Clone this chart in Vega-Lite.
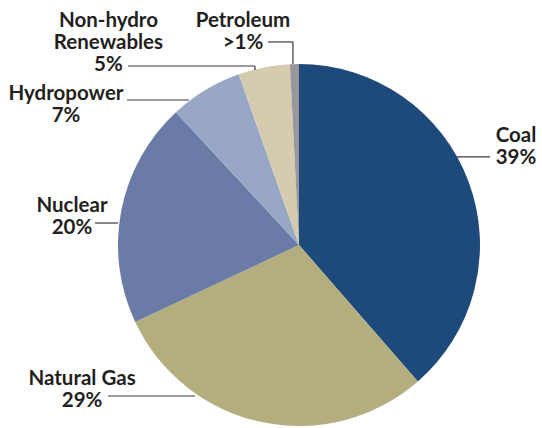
{
  "$schema": "https://vega.github.io/schema/vega-lite/v6.json",
  "width": 486,
  "height": 366,
  "autosize": {"type": "none"},
  "padding": {"left": 56, "top": 62, "right": 0, "bottom": 0},
  "background": "white",
  "config": {
    "view": {"stroke": null},
    "text": {"font": "Lato", "fontWeight": "bold", "fontSize": 20.5, "color": "#231f20", "align": "center", "baseline": "alphabetic", "lineBreak": "\n", "lineHeight": 22},
    "rule": {"color": "#3a3a3a", "strokeWidth": 1.2}
  },
  "data": {"values": [
    {"source": "Coal", "share": 38.6, "label": "Coal\n39%", "order": 1},
    {"source": "Natural Gas", "share": 29.4, "label": "Natural Gas\n29%", "order": 2},
    {"source": "Nuclear", "share": 20.1, "label": "Nuclear\n20%", "order": 3},
    {"source": "Hydropower", "share": 6.5, "label": "Hydropower\n7%", "order": 4},
    {"source": "Non-hydro Renewables", "share": 4.6, "label": "Non-hydro\nRenewables\n5%", "order": 5},
    {"source": "Petroleum", "share": 0.8, "label": "Petroleum\n>1%", "order": 6}
  ]},
  "transform": [
    {"stack": "share", "groupby": [], "sort": [{"field": "order"}], "as": ["s0", "s1"]},
    {"calculate": "(datum.s0 + datum.s1) * PI / 100", "as": "mid"},
    {"calculate": "sin(datum.mid)", "as": "ax"},
    {"calculate": "cos(datum.mid)", "as": "ay"}
  ],
  "layer": [
    {
      "mark": {"type": "arc", "outerRadius": 181},
      "encoding": {
        "theta": {"field": "s0", "type": "quantitative", "stack": null, "scale": {"domain": [0, 100]}},
        "theta2": {"field": "s1"},
        "color": {"field": "source", "type": "nominal", "legend": null,
          "scale": {"domain": ["Coal", "Natural Gas", "Nuclear", "Hydropower", "Non-hydro Renewables", "Petroleum"],
                    "range": ["#1e4a7b", "#b4ad7e", "#6a7ba6", "#99a7c7", "#d5ccb0", "#98989c"]}}
      }
    },
    {
      "transform": [{"filter": "datum.source === 'Coal'"}],
      "layer": [
        {"mark": {"type": "text", "dx": 47.5, "dy": -39.6}, "encoding": {"text": {"field": "label"}}},
        {"mark": {"type": "rule", "xOffset": -11.5, "x2Offset": 21.5, "yOffset": -24.6, "y2Offset": -24.6}, "encoding": {"x2": {"field": "ax"}, "y2": {"field": "ay"}}}
      ],
      "encoding": {
        "x": {"field": "ax", "type": "quantitative", "axis": null, "scale": {"domain": [-1.342541, 1.342541], "nice": false, "zero": false}},
        "y": {"field": "ay", "type": "quantitative", "axis": null, "scale": {"domain": [-1.01105, 1.01105], "nice": false, "zero": false}}
      }
    },
    {
      "transform": [{"filter": "datum.source === 'Natural Gas'"}],
      "layer": [
        {"mark": {"type": "text", "dx": -179.7, "dy": -37.1}, "encoding": {"text": {"field": "label"}}},
        {"mark": {"type": "rule", "xOffset": -153.7, "x2Offset": -66.7, "yOffset": -26.1, "y2Offset": -26.1}, "encoding": {"x2": {"field": "ax"}, "y2": {"field": "ay"}}}
      ],
      "encoding": {
        "x": {"field": "ax", "type": "quantitative", "axis": null, "scale": {"domain": [-1.342541, 1.342541], "nice": false, "zero": false}},
        "y": {"field": "ay", "type": "quantitative", "axis": null, "scale": {"domain": [-1.01105, 1.01105], "nice": false, "zero": false}}
      }
    },
    {
      "transform": [{"filter": "datum.source === 'Nuclear'"}],
      "layer": [
        {"mark": {"type": "text", "dx": -49.3, "dy": 1.5}, "encoding": {"text": {"field": "label"}}},
        {"mark": {"type": "rule", "xOffset": -26.3, "x2Offset": -3.3, "yOffset": 12.5, "y2Offset": 12.5}, "encoding": {"x2": {"field": "ax"}, "y2": {"field": "ay"}}}
      ],
      "encoding": {
        "x": {"field": "ax", "type": "quantitative", "axis": null, "scale": {"domain": [-1.342541, 1.342541], "nice": false, "zero": false}},
        "y": {"field": "ay", "type": "quantitative", "axis": null, "scale": {"domain": [-1.01105, 1.01105], "nice": false, "zero": false}}
      }
    },
    {
      "transform": [{"filter": "datum.source === 'Hydropower'"}],
      "layer": [
        {"mark": {"type": "text", "dx": -139.4, "dy": 9.9}, "encoding": {"text": {"field": "label"}}},
        {"mark": {"type": "rule", "xOffset": -78.4, "x2Offset": -16.4, "yOffset": 9.9, "y2Offset": 9.9}, "encoding": {"x2": {"field": "ax"}, "y2": {"field": "ay"}}}
      ],
      "encoding": {
        "x": {"field": "ax", "type": "quantitative", "axis": null, "scale": {"domain": [-1.342541, 1.342541], "nice": false, "zero": false}},
        "y": {"field": "ay", "type": "quantitative", "axis": null, "scale": {"domain": [-1.01105, 1.01105], "nice": false, "zero": false}}
      }
    },
    {
      "transform": [{"filter": "datum.source === 'Non-hydro Renewables'"}],
      "layer": [
        {"mark": {"type": "text", "dx": -155.5, "dy": -40.4}, "encoding": {"text": {"field": "label"}}},
        {"mark": {"type": "rule", "xOffset": -136, "x2Offset": -9, "yOffset": -1.4, "y2Offset": -1.4}, "encoding": {"x2": {"field": "ax"}, "y2": {"field": "ay"}}},
        {"mark": {"type": "rule", "xOffset": -9, "x2Offset": -9, "yOffset": -1.4, "y2Offset": 2.6}, "encoding": {"x2": {"field": "ax"}, "y2": {"field": "ay"}}}
      ],
      "encoding": {
        "x": {"field": "ax", "type": "quantitative", "axis": null, "scale": {"domain": [-1.342541, 1.342541], "nice": false, "zero": false}},
        "y": {"field": "ay", "type": "quantitative", "axis": null, "scale": {"domain": [-1.01105, 1.01105], "nice": false, "zero": false}}
      }
    },
    {
      "transform": [{"filter": "datum.source === 'Petroleum'"}],
      "layer": [
        {"mark": {"type": "text", "dx": -51.5, "dy": -37.1}, "encoding": {"text": {"field": "label"}}},
        {"mark": {"type": "rule", "xOffset": -26.5, "x2Offset": -1.5, "yOffset": -22.1, "y2Offset": -22.1}, "encoding": {"x2": {"field": "ax"}, "y2": {"field": "ay"}}},
        {"mark": {"type": "rule", "xOffset": -1.5, "x2Offset": -1.5, "yOffset": -22.1, "y2Offset": 0}, "encoding": {"x2": {"field": "ax"}, "y2": {"field": "ay"}}}
      ],
      "encoding": {
        "x": {"field": "ax", "type": "quantitative", "axis": null, "scale": {"domain": [-1.342541, 1.342541], "nice": false, "zero": false}},
        "y": {"field": "ay", "type": "quantitative", "axis": null, "scale": {"domain": [-1.01105, 1.01105], "nice": false, "zero": false}}
      }
    }
  ]
}
